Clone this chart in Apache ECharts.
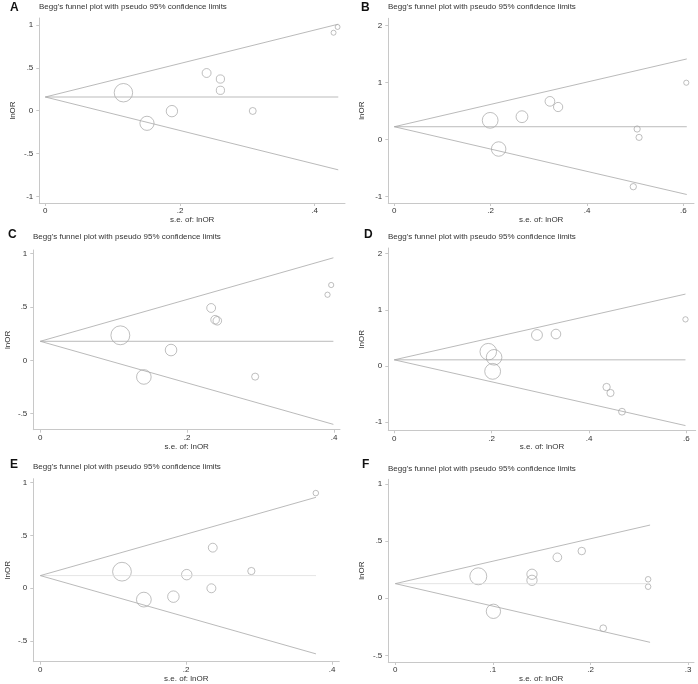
<!DOCTYPE html>
<html>
<head>
<meta charset="utf-8">
<script src="https://cdn.jsdelivr.net/npm/echarts@6/dist/echarts.min.js"></script>
<style>
html,body{margin:0;padding:0;background:#fff;}
#c{width:698px;height:684px;}
</style>
</head>
<body>
<div id="c"></div>
<script>
// ---- data ----
const panelLetters = ['A','B','C','D','E','F'];
const titleText = "Begg's funnel plot with pseudo 95% confidence limits";
const xName = 's.e. of: lnOR';
const yName = 'lnOR';

const seA = [0.116, 0.151, 0.188, 0.2395, 0.26, 0.26, 0.308, 0.428, 0.434];
const lnorA = [0.21, -0.147, -0.005, 0.44, 0.37, 0.238, -0.003, 0.91, 0.977];
const pooledA = [[0, 0.16], [0.435, 0.16]];
const upperA = [[0, 0.16], [0.435, 1.01]];
const lowerA = [[0, 0.16], [0.435, -0.69]];

const seB = [0.199, 0.2166, 0.265, 0.323, 0.340, 0.504, 0.508, 0.496, 0.606];
const lnorB = [0.34, -0.163, 0.404, 0.673, 0.574, 0.188, 0.041, -0.824, 1.0];
const pooledB = [[0, 0.228], [0.607, 0.228]];
const upperB = [[0, 0.228], [0.607, 1.417]];
const lowerB = [[0, 0.228], [0.607, -0.961]];

const seC = [0.109, 0.141, 0.178, 0.2326, 0.238, 0.241, 0.2925, 0.391, 0.396];
const lnorC = [0.234, -0.156, 0.096, 0.49, 0.38, 0.37, -0.153, 0.614, 0.705];
const pooledC = [[0, 0.178], [0.399, 0.178]];
const upperC = [[0, 0.178], [0.399, 0.96]];
const lowerC = [[0, 0.178], [0.399, -0.60]];

const seD = [0.193, 0.205, 0.202, 0.293, 0.332, 0.436, 0.444, 0.4676, 0.598];
const lnorD = [0.255, 0.155, -0.095, 0.552, 0.569, -0.374, -0.48, -0.813, 0.83];
const pooledD = [[0, 0.11], [0.598, 0.11]];
const upperD = [[0, 0.11], [0.598, 1.28]];
const lowerD = [[0, 0.11], [0.598, -1.06]];

const seE = [0.112, 0.142, 0.1825, 0.2008, 0.2365, 0.2346, 0.2894, 0.3778];
const lnorE = [0.157, -0.107, -0.079, 0.129, 0.384, 0.0, 0.163, 0.90];
const pooledE = [[0, 0.12], [0.378, 0.12]];
const upperE = [[0, 0.12], [0.378, 0.86]];
const lowerE = [[0, 0.12], [0.378, -0.62]];

const seF = [0.085, 0.1005, 0.14, 0.14, 0.166, 0.191, 0.213, 0.259, 0.259];
const lnorF = [0.192, -0.114, 0.21, 0.157, 0.358, 0.413, -0.262, 0.166, 0.101];
const pooledF = [[0, 0.128], [0.261, 0.128]];
const upperF = [[0, 0.128], [0.261, 0.64]];
const lowerF = [[0, 0.128], [0.261, -0.385]];

const xTicksA = [0, 0.2, 0.4], yTicksA = [-1, -0.5, 0, 0.5, 1];
const xTicksB = [0, 0.2, 0.4, 0.6], yTicksB = [-1, 0, 1, 2];
const xTicksC = [0, 0.2, 0.4], yTicksC = [-0.5, 0, 0.5, 1];
const xTicksD = [0, 0.2, 0.4, 0.6], yTicksD = [-1, 0, 1, 2];
const xTicksE = [0, 0.2, 0.4], yTicksE = [-0.5, 0, 0.5, 1];
const xTicksF = [0, 0.1, 0.2, 0.3], yTicksF = [-0.5, 0, 0.5, 1];

// ---- layout / style ----
const panels = [
  {se: seA, y: lnorA, pooled: pooledA, up: upperA, lo: lowerA, xt: xTicksA, yt: yTicksA,
   grid: {left: 39.3, top: 18, width: 305.7, height: 185}, xr: [-0.0089, 0.445], yr: [-1.077, 1.082],
   k: 1.07, letter: [10, 2], title: [39, 3], yGap: 23, pooledColor: '#aaa'},
  {se: seB, y: lnorB, pooled: pooledB, up: upperB, lo: lowerB, xt: xTicksB, yt: yTicksB,
   grid: {left: 388.3, top: 18.3, width: 305.7, height: 184.7}, xr: [-0.0124, 0.622], yr: [-1.11, 2.13],
   k: 1.57, letter: [361, 2], title: [388, 3], yGap: 23, pooledColor: '#aaa'},
  {se: seC, y: lnorC, pooled: pooledC, up: upperC, lo: lowerC, xt: xTicksC, yt: yTicksC,
   grid: {left: 33.3, top: 250, width: 306.7, height: 179.7}, xr: [-0.0095, 0.408], yr: [-0.65, 1.033],
   k: 1.03, letter: [8, 229], title: [33, 233], yGap: 22, pooledColor: '#aaa'},
  {se: seD, y: lnorD, pooled: pooledD, up: upperD, lo: lowerD, xt: xTicksD, yt: yTicksD,
   grid: {left: 388.3, top: 248, width: 307.4, height: 182.3}, xr: [-0.0123, 0.619], yr: [-1.144, 2.1],
   k: 1.6, letter: [364, 229], title: [388, 233], yGap: 23, pooledColor: '#aaa'},
  {se: seE, y: lnorE, pooled: pooledE, up: upperE, lo: lowerE, xt: xTicksE, yt: yTicksE,
   grid: {left: 33.3, top: 478.7, width: 306, height: 183}, xr: [-0.0096, 0.41], yr: [-0.694, 1.036],
   k: 1.05, letter: [10, 459], title: [33, 463], yGap: 22, pooledColor: '#ddd'},
  {se: seF, y: lnorF, pooled: pooledF, up: upperF, lo: lowerF, xt: xTicksF, yt: yTicksF,
   grid: {left: 388.3, top: 479.3, width: 305.7, height: 182.7}, xr: [-0.0072, 0.306], yr: [-0.557, 1.04],
   k: 0.72, letter: [362, 459], title: [388, 465], yGap: 23, pooledColor: '#ddd'}
];

const FONT = '"Liberation Sans", Arial, Helvetica, sans-serif';
const axisGray = '#c8c8c8';
const fmt = v => String(Math.round(v * 1000) / 1000).replace('0.', '.');

const option = {
  animation: false,
  backgroundColor: '#fff',
  title: [], grid: [], xAxis: [], yAxis: [], series: []
};

panels.forEach((p, i) => {
  option.title.push({
    text: panelLetters[i], left: p.letter[0], top: p.letter[1], padding: 0,
    textStyle: {fontFamily: FONT, fontSize: 12, fontWeight: 'bold', color: '#111'}
  });
  option.title.push({
    text: titleText, left: p.title[0], top: p.title[1], padding: 0,
    textStyle: {fontFamily: FONT, fontSize: 8, fontWeight: 'normal', color: '#333'}
  });
  option.grid.push(Object.assign({containLabel: false}, p.grid));
  option.xAxis.push({
    type: 'value', gridIndex: i, min: p.xr[0], max: p.xr[1],
    name: xName, nameLocation: 'middle', nameGap: 12,
    nameTextStyle: {fontFamily: FONT, fontSize: 8, color: '#333'},
    axisLine: {show: true, onZero: false, lineStyle: {color: axisGray, width: 1}},
    axisTick: {show: true, length: 3, customValues: p.xt, lineStyle: {color: axisGray}},
    axisLabel: {customValues: p.xt, formatter: fmt, fontFamily: FONT, fontSize: 8, color: '#333', margin: 4},
    splitLine: {show: false}
  });
  option.yAxis.push({
    type: 'value', gridIndex: i, min: p.yr[0], max: p.yr[1],
    name: yName, nameLocation: 'middle', nameGap: p.yGap, nameRotate: 90,
    nameTextStyle: {fontFamily: FONT, fontSize: 8, color: '#333'},
    axisLine: {show: true, onZero: false, lineStyle: {color: axisGray, width: 1}},
    axisTick: {show: true, length: 3, customValues: p.yt, lineStyle: {color: axisGray}},
    axisLabel: {customValues: p.yt, formatter: fmt, fontFamily: FONT, fontSize: 8, color: '#333', margin: 6},
    splitLine: {show: false}
  });
  const lineStyleOf = c => ({color: c, width: 0.8});
  option.series.push({type: 'line', xAxisIndex: i, yAxisIndex: i, data: p.pooled, symbol: 'none',
    lineStyle: lineStyleOf(p.pooledColor), silent: true});
  option.series.push({type: 'line', xAxisIndex: i, yAxisIndex: i, data: p.up, symbol: 'none',
    lineStyle: lineStyleOf('#a8a8a8'), silent: true});
  option.series.push({type: 'line', xAxisIndex: i, yAxisIndex: i, data: p.lo, symbol: 'none',
    lineStyle: lineStyleOf('#a8a8a8'), silent: true});
  const k = p.k;
  option.series.push({type: 'scatter', xAxisIndex: i, yAxisIndex: i,
    data: p.se.map((s, j) => [s, p.y[j]]),
    symbol: 'circle',
    symbolSize: d => 2 * k / d[0],
    itemStyle: {color: 'rgba(0,0,0,0)', borderColor: '#9a9a9a', borderWidth: 0.8},
    silent: true});
});

const chart = echarts.init(document.getElementById('c'), null, {renderer: 'canvas'});
chart.setOption(option);
</script>
</body>
</html>
